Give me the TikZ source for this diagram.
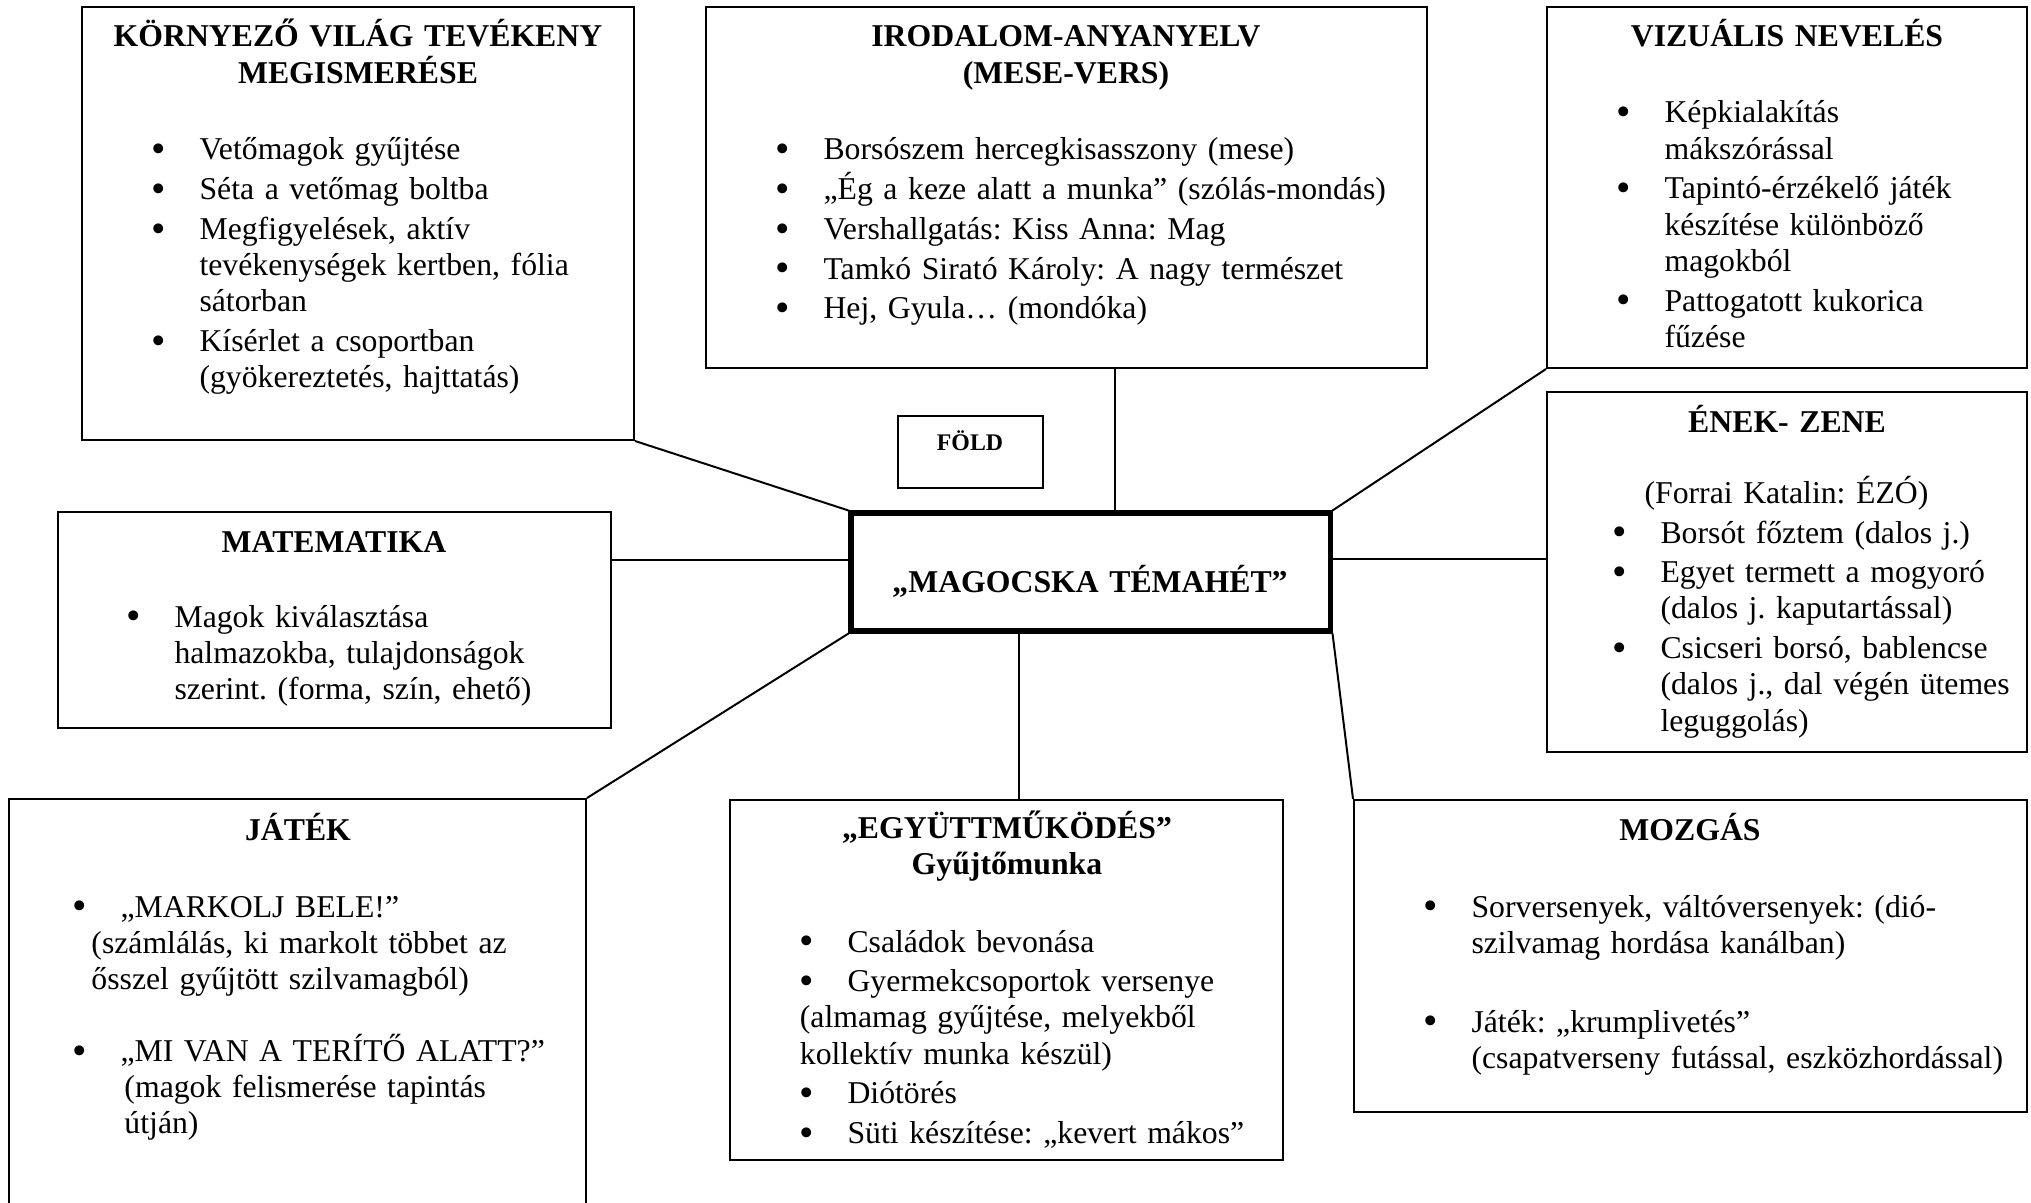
\documentclass[tikz,border=0pt]{standalone}
\usepackage{graphicx}
\usepackage{fontspec}
\setmainfont{Liberation Serif}
\usetikzlibrary{fit,calc}
\frenchspacing
\newcommand{\bul}{\leavevmode\llap{\makebox[18pt][l]{\raisebox{-1pt}{\scalebox{1.3}{\textbullet}}}}}

\begin{document}
\begin{tikzpicture}[x=0.378pt,y=-0.378pt,
    box/.style={draw,line width=0.75pt,inner sep=0pt},
    ttl/.style={font=\fontsize{12}{13.8}\selectfont\bfseries,text width=300pt,align=center,anchor=base,inner sep=0pt},
    lst/.style={font=\fontsize{12}{13.7}\selectfont,text width=400pt,align=left,anchor=base west,inner sep=0pt},
    link/.style={line width=0.75pt}]
					\useasboundingbox (0,0) rectangle (2031,1203);
					%BOXES
					\node[box,fit={(82,7) (634,440)}] (korny) {};
					\node[box,fit={(706,7) (1427,368)}] (irod) {};
					\node[box,fit={(1547,7) (2027,368)}] (vizu) {};
					\node[box,fit={(898,416) (1043,488)}] (fold) {};
					\node[box,line width=1.9pt,fit={(851,513) (1330,631)}] (tema) {};
					\node[box,fit={(58,512) (611,728)}] (mat) {};
					\node[box,fit={(1547,392) (2027,752)}] (enek) {};
					\node[box,fit={(9,799) (586,1240)}] (jatek) {};
					\node[box,fit={(730,800) (1283,1160)}] (egyutt) {};
					\node[box,fit={(1354,800) (2027,1112)}] (mozg) {};

					%TEXTS
					\node[ttl] (kornyT) at (358,47) {KÖRNYEZŐ VILÁG TEVÉKENY\\MEGISMERÉSE};
					\node[lst] (kornyL) at (199,160) {\bul Vetőmagok gyűjtése\\[1.3pt]
					\bul Séta a vetőmag boltba\\[1.3pt]
					\bul Megfigyelések, aktív\\
					tevékenységek kertben, fólia\\
					sátorban\\[1.3pt]
					\bul Kísérlet a csoportban\\
					(gyökereztetés, hajttatás)};

					\node[ttl] (irodT) at (1066,47) {IRODALOM-ANYANYELV\\(MESE-VERS)};
					\node[lst] (irodL) at (823,160) {\bul Borsószem hercegkisasszony (mese)\\[1.3pt]
					\bul „Ég a keze alatt a munka” (szólás-mondás)\\[1.3pt]
					\bul Vershallgatás: Kiss Anna: Mag\\[1.3pt]
					\bul Tamkó Sirató Károly: A nagy természet\\[1.3pt]
					\bul Hej, Gyula… (mondóka)};

					\node[ttl] (vizuT) at (1787,47) {VIZUÁLIS NEVELÉS};
					\node[lst] (vizuL) at (1664,123) {\bul Képkialakítás\\
					mákszórással\\[1.3pt]
					\bul Tapintó-érzékelő játék\\
					készítése különböző\\
					magokból\\[1.3pt]
					\bul Pattogatott kukorica\\
					fűzése};

					\node[ttl,font=\fontsize{9}{11}\selectfont\bfseries] (foldT) at (970,450) {FÖLD};
					\node[ttl] (temaT) at (1090,592) {„MAGOCSKA TÉMAHÉT”};

					\node[ttl] (matT) at (334,552) {MATEMATIKA};
					\node[lst] (matL) at (174,627) {\bul Magok kiválasztása\\
					halmazokba, tulajdonságok\\
					szerint. (forma, szín, ehető)};

					\node[ttl] (enekT) at (1787,432) {ÉNEK- ZENE};
					\node[lst] (enekF) at (1644,503) {(Forrai Katalin: ÉZÓ)};
					\node[lst] (enekL) at (1660,543) {\bul Borsót főztem (dalos j.)\\[1.3pt]
					\bul Egyet termett a mogyoró\\
					(dalos j. kaputartással)\\[1.3pt]
					\bul Csicseri borsó, bablencse\\
					(dalos j., dal végén ütemes\\
					leguggolás)};

					\node[ttl] (jatekT) at (298,840) {JÁTÉK};
					\node[lst] (jatekL) at (120,917) {\bul „MARKOLJ BELE!”\\
					\hspace*{-11pt}(számlálás, ki markolt többet az\\
					\hspace*{-11pt}ősszel gyűjtött szilvamagból)\\[13.5pt]
					\bul „MI VAN A TERÍTŐ ALATT?”\\
					\hspace*{1.5pt}(magok felismerése tapintás\\
					\hspace*{1.5pt}útján)};

					\node[ttl] (egyuttT) at (1007,838) {„EGYÜTTMŰKÖDÉS”\\Gyűjtőmunka};
					\node[lst] (egyuttL) at (847,952) {\bul Családok bevonása\\[1.3pt]
					\bul Gyermekcsoportok versenye\\
					\hspace*{-18pt}(almamag gyűjtése, melyekből\\
					\hspace*{-18pt}kollektív munka készül)\\[1.3pt]
					\bul Diótörés\\[1.3pt]
					\bul Süti készítése: „kevert mákos”};

					\node[ttl] (mozgT) at (1690,840) {MOZGÁS};
					\node[lst] (mozgL) at (1471,917) {\bul Sorversenyek, váltóversenyek: (dió-\\
					szilvamag hordása kanálban)\\[16.2pt]
					\bul Játék: „krumplivetés”\\
					(csapatverseny futással, eszközhordással)};

					%LINKS
					\coordinate (irodfoot) at (1115,368);
					\coordinate (matjoin) at (611,560);
					\coordinate (enekjoin) at (1547,559);
					\coordinate (egyjoin) at (1019,800);
					\draw[link] (korny.south east) -- (tema.north west);
					\draw[link] (irodfoot) -- (irodfoot |- tema.north);
					\draw[link] (vizu.south west) -- (tema.north east);
					\draw[link] (matjoin) -- (matjoin -| tema.west);
					\draw[link] (tema.east |- enekjoin) -- (enekjoin);
					\draw[link] (jatek.north east) -- (tema.south west);
					\draw[link] (egyjoin |- tema.south) -- (egyjoin);
					\draw[link] (tema.south east) -- (mozg.north west);
\end{tikzpicture}
\end{document}
